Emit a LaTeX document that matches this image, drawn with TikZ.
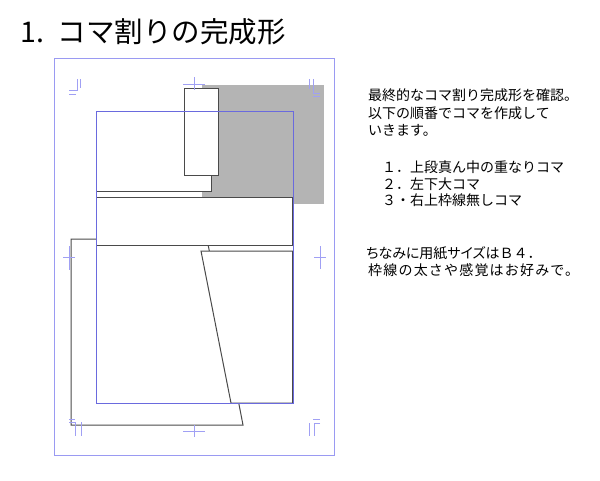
\documentclass[tikz,border=0pt]{standalone}
\usepackage{fontspec}
\setmainfont{Noto Sans CJK JP}
\newfontfamily\jp{Noto Sans CJK JP}
\newfontfamily\jpprop[RawFeature=+palt]{Noto Sans CJK JP}
\newfontfamily\jpwide[LetterSpace=8.5]{Noto Sans CJK JP}
\definecolor{panelgray}{HTML}{4A4A4A}
\definecolor{shadegray}{HTML}{B4B4B4}
\definecolor{pageblue}{HTML}{9A9AF2}
\definecolor{frameblue}{HTML}{6A6ADE}
\definecolor{markblue}{HTML}{A0A0F4}
\begin{document}
\begin{tikzpicture}[x=1pt,y=-1pt,
  panel/.style={fill=white,draw=panelgray,line width=1pt},
  pageline/.style={draw=pageblue,line width=0.9pt},
  frameline/.style={draw=frameblue,line width=0.8pt},
  markline/.style={draw=markblue,line width=0.8pt},
  txt/.style={anchor=base west,inner sep=0pt,font=\jp\fontsize{14}{17}\selectfont},
  titletxt/.style={anchor=base west,inner sep=0pt,font=\jp\fontsize{28.5}{30}\selectfont}]
\useasboundingbox[fill=white] (0,0) rectangle (600,480);
% title
\node[titletxt] (title) at (20,42) {1.\hspace{14pt}コマ割りの完成形};
% page outline
\draw[pageline] (54,58) rectangle (334,455);
% gray borderless panel
\fill[shadegray] (202,85) rectangle (324,204);
% big lower-left panel
\draw[panel] (71,239) -- (207,239) -- (243,425) -- (71,425) -- cycle;
% middle wide panel
\draw[panel] (96,197) rectangle (292.6,245);
% lower right panel
\draw[panel] (201,251) -- (292.6,251) -- (292.6,403) -- (231,403) -- cycle;
% top-left panel
\draw[panel] (96,111) rectangle (211,191);
% tall overlapping panel
\draw[panel] (184,88) rectangle (218,175);
% basic frame
\draw[frameline] (96,111) rectangle (293,403);
% centre marks
\draw[markline] (183,84) -- (205,84) (194,77) -- (194,90);
\draw[markline] (183,431) -- (205,431) (194,425) -- (194,437);
\draw[markline] (63,257) -- (75,257) (69,246) -- (69,270);
\draw[markline] (314,257) -- (326,257) (320,246) -- (320,269);
% corner marks
\draw[markline] (69,90) -- (77,90) -- (77,79) (80,79) -- (80,88) (69,94) -- (76,94);
\draw[markline] (320,93) -- (313,93) -- (313,79) (309,79) -- (309,89) (313,96) -- (320,96);
\draw[markline] (69,422) -- (75,422) -- (75,436) (81,422) -- (81,436) (69,419) -- (75,419);
\draw[markline] (320,423) -- (314,423) -- (314,436) (309,423) -- (309,436) (313,419) -- (320,419);
% explanation
\node[txt] (l1) at (368,100) {最終的なコマ割り完成形を確認。};
\node[txt] (l2) at (368,118) {以下の順番でコマを作成して};
\node[txt] (l3) at (368,135) {いきます。};
\node[txt] (i1) at (382,172) {１．上段真ん中の重なりコマ};
\node[txt] (i2) at (382,189) {２．左下大コマ};
\node[txt] (i3) at (382,205) {３・右上枠線無しコマ};
\node[txt] (n1) at (366,258) {{\jpprop ちなみに用紙サイズは}Ｂ４．};
\node[txt,font=\jpwide\fontsize{14}{17}\selectfont] (n2) at (368,275) {枠線の太さや感覚はお好みで。};
\end{tikzpicture}
\end{document}
